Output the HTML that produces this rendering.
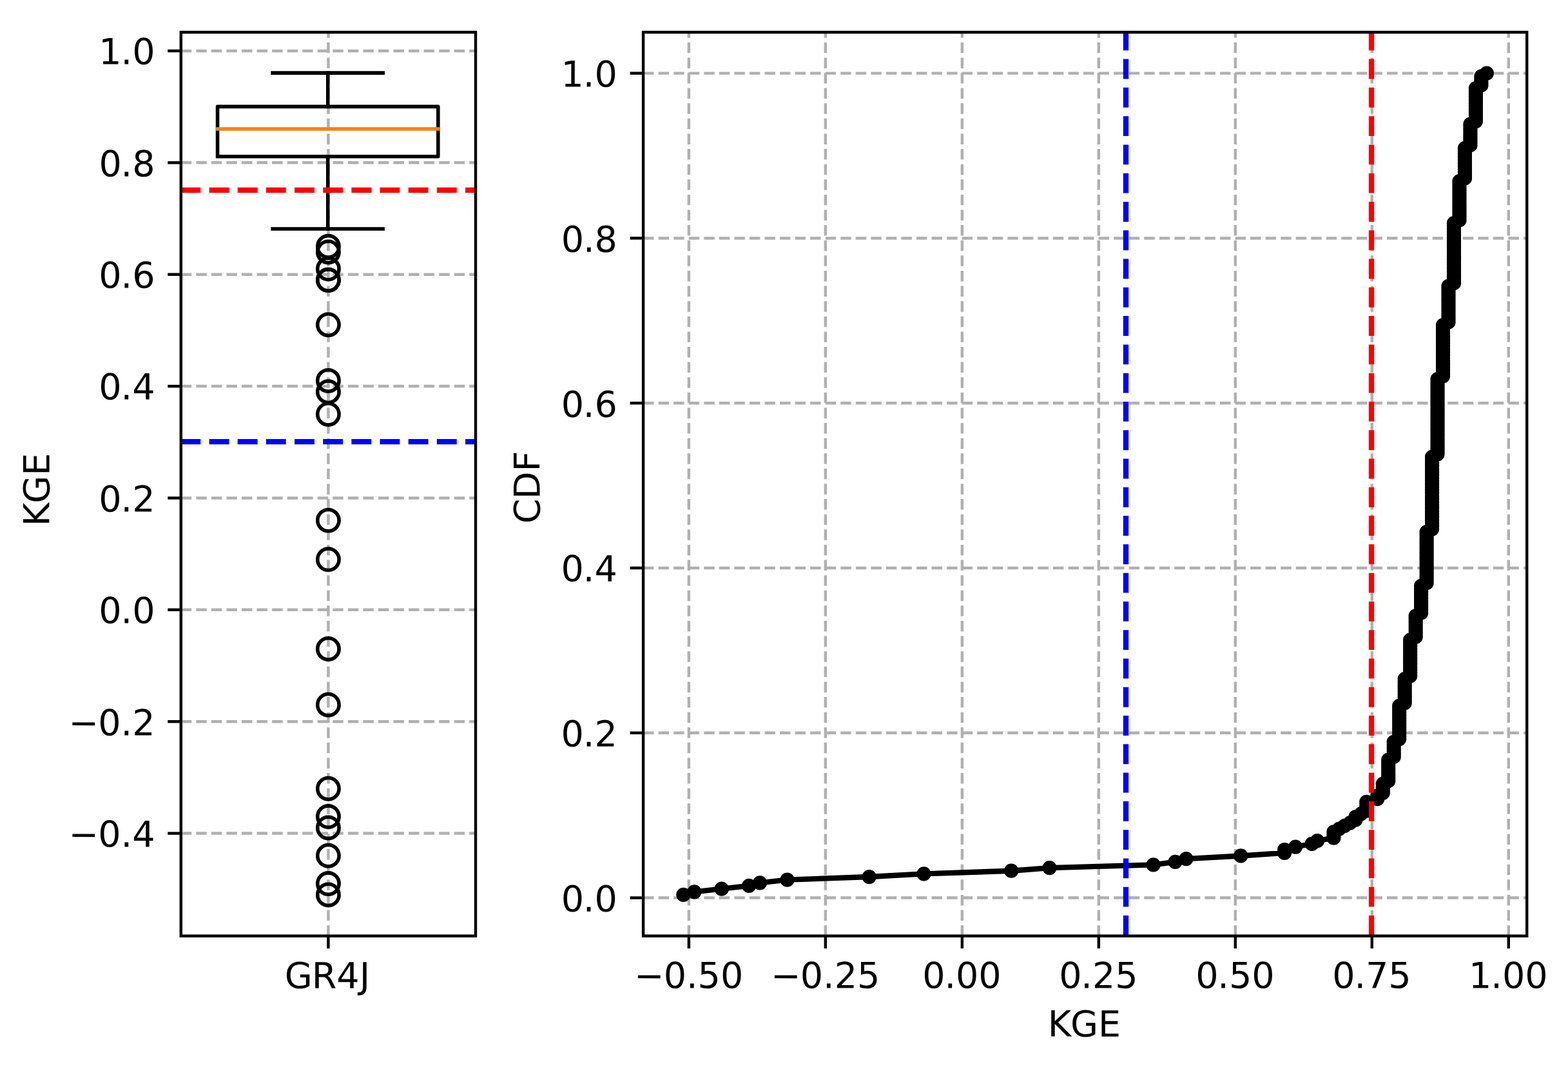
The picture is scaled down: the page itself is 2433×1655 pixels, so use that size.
<!DOCTYPE html>
<html lang="en">
<head>
<meta charset="utf-8">
<title>KGE boxplot and CDF (GR4J)</title>
<style>
html, body { margin: 0; padding: 0; background: #ffffff; }
body { width: 2433px; height: 1655px; overflow: hidden; }
svg { display: block; }
svg text { font-family: 'DejaVu Sans', 'Liberation Sans', sans-serif; white-space: pre; }
</style>
</head>
<body>
<svg width="2433" height="1655" viewBox="0 0 2433 1655">
<defs><clipPath id="clip1"><rect x="280.8" y="49.9" width="457.2" height="1401.75"/></clipPath><clipPath id="clip2"><rect x="998.1" y="49.9" width="1371.1" height="1401.75"/></clipPath></defs>
<rect x="0" y="0" width="2433" height="1655" fill="#ffffff"/>
<g id="ax1">
<g id="ax1-grid">
<line x1="509.4" y1="1451.65" x2="509.4" y2="49.9" stroke="#b0b0b0" stroke-width="4.44" stroke-linecap="butt" stroke-dasharray="16.48 7.13"/>
<line x1="280.8" y1="1292.58" x2="738" y2="1292.58" stroke="#b0b0b0" stroke-width="4.46" stroke-linecap="butt" stroke-dasharray="16.44 7.11"/>
<line x1="280.8" y1="1119.2" x2="738" y2="1119.2" stroke="#b0b0b0" stroke-width="4.46" stroke-linecap="butt" stroke-dasharray="16.44 7.11"/>
<line x1="280.8" y1="945.82" x2="738" y2="945.82" stroke="#b0b0b0" stroke-width="4.46" stroke-linecap="butt" stroke-dasharray="16.44 7.11"/>
<line x1="280.8" y1="772.45" x2="738" y2="772.45" stroke="#b0b0b0" stroke-width="4.46" stroke-linecap="butt" stroke-dasharray="16.44 7.11"/>
<line x1="280.8" y1="599.07" x2="738" y2="599.07" stroke="#b0b0b0" stroke-width="4.46" stroke-linecap="butt" stroke-dasharray="16.44 7.11"/>
<line x1="280.8" y1="425.69" x2="738" y2="425.69" stroke="#b0b0b0" stroke-width="4.46" stroke-linecap="butt" stroke-dasharray="16.44 7.11"/>
<line x1="280.8" y1="252.32" x2="738" y2="252.32" stroke="#b0b0b0" stroke-width="4.46" stroke-linecap="butt" stroke-dasharray="16.44 7.11"/>
<line x1="280.8" y1="78.94" x2="738" y2="78.94" stroke="#b0b0b0" stroke-width="4.46" stroke-linecap="butt" stroke-dasharray="16.44 7.11"/>
</g>
<g id="ax1-ticks">
<line x1="509.4" y1="1451.65" x2="509.4" y2="1471.15" stroke="#000" stroke-width="4.44" stroke-linecap="butt"/>
<line x1="260.3" y1="1292.58" x2="280.8" y2="1292.58" stroke="#000" stroke-width="4.46" stroke-linecap="butt"/>
<line x1="260.3" y1="1119.2" x2="280.8" y2="1119.2" stroke="#000" stroke-width="4.46" stroke-linecap="butt"/>
<line x1="260.3" y1="945.82" x2="280.8" y2="945.82" stroke="#000" stroke-width="4.46" stroke-linecap="butt"/>
<line x1="260.3" y1="772.45" x2="280.8" y2="772.45" stroke="#000" stroke-width="4.46" stroke-linecap="butt"/>
<line x1="260.3" y1="599.07" x2="280.8" y2="599.07" stroke="#000" stroke-width="4.46" stroke-linecap="butt"/>
<line x1="260.3" y1="425.69" x2="280.8" y2="425.69" stroke="#000" stroke-width="4.46" stroke-linecap="butt"/>
<line x1="260.3" y1="252.32" x2="280.8" y2="252.32" stroke="#000" stroke-width="4.46" stroke-linecap="butt"/>
<line x1="260.3" y1="78.94" x2="280.8" y2="78.94" stroke="#000" stroke-width="4.46" stroke-linecap="butt"/>
</g>
<g id="ax1-box" fill="none" stroke="#000" stroke-width="5.56" stroke-linecap="square" stroke-linejoin="round">
<path d="M337.55 242.8H679.8V165.4H337.55V242.8"/>
<path d="M508.7 242.8V355.05"/>
<path d="M508.7 165.4V113.1"/>
<path d="M423.1 355.05H594.2"/>
<path d="M423.1 113.1H594.2"/>
</g>
<line x1="337.55" y1="200" x2="679.8" y2="200" stroke="#ff7f0e" stroke-width="5.57" stroke-linecap="square"/>
<g id="ax1-fliers" fill="none" stroke="#000" stroke-width="5.56">
<ellipse cx="509.4" cy="1387.93" rx="16.67" ry="16.71"/>
<ellipse cx="509.4" cy="1370.6" rx="16.67" ry="16.71"/>
<ellipse cx="509.4" cy="1327.25" rx="16.67" ry="16.71"/>
<ellipse cx="509.4" cy="1283.91" rx="16.67" ry="16.71"/>
<ellipse cx="509.4" cy="1266.57" rx="16.67" ry="16.71"/>
<ellipse cx="509.4" cy="1223.23" rx="16.67" ry="16.71"/>
<ellipse cx="509.4" cy="1093.19" rx="16.67" ry="16.71"/>
<ellipse cx="509.4" cy="1006.51" rx="16.67" ry="16.71"/>
<ellipse cx="509.4" cy="867.8" rx="16.67" ry="16.71"/>
<ellipse cx="509.4" cy="807.12" rx="16.67" ry="16.71"/>
<ellipse cx="509.4" cy="642.41" rx="16.67" ry="16.71"/>
<ellipse cx="509.4" cy="607.74" rx="16.67" ry="16.71"/>
<ellipse cx="509.4" cy="590.4" rx="16.67" ry="16.71"/>
<ellipse cx="509.4" cy="503.71" rx="16.67" ry="16.71"/>
<ellipse cx="509.4" cy="434.36" rx="16.67" ry="16.71"/>
<ellipse cx="509.4" cy="434.36" rx="16.67" ry="16.71"/>
<ellipse cx="509.4" cy="417.03" rx="16.67" ry="16.71"/>
<ellipse cx="509.4" cy="391.02" rx="16.67" ry="16.71"/>
<ellipse cx="509.4" cy="382.35" rx="16.67" ry="16.71"/>
</g>
<g id="ax1-reflines" clip-path="url(#clip1)">
<line x1="280.4" y1="294.9" x2="738" y2="294.9" stroke="#ff0000" stroke-width="8.35" stroke-linecap="butt" stroke-dasharray="30.83 13.33"/>
<line x1="280.4" y1="685.1" x2="738" y2="685.1" stroke="#0000ff" stroke-width="8.35" stroke-linecap="butt" stroke-dasharray="30.83 13.33"/>
</g>
<path d="M278.58 47.67H740.22V1453.88H278.58Z M283.02 52.13V1449.42H735.78V52.13Z" fill="#000" fill-rule="nonzero"/>
<g id="ax1-labels" font-family="'DejaVu Sans', 'Liberation Sans', sans-serif" font-size="55.56px" fill="#000">
<text transform="matrix(1 0.0005 -0.0005 1.00242 106.57 1313.34)" x="0 45.66 80.89 98.63" y="0">−0.4</text>
<text transform="matrix(1 0.0005 -0.0005 1.00242 106.55 1140.36)" x="0 45.66 80.88 98.65" y="0">−0.2</text>
<text transform="matrix(1 0.0005 -0.0005 1.00242 153.33 966.54)" x="0 34.22 51.87" y="0">0.0</text>
<text transform="matrix(1 0.0005 -0.0005 1.00242 153.21 793.5)" x="0 34.22 51.99" y="0">0.2</text>
<text transform="matrix(1 0.0005 -0.0005 1.00242 153.24 619.47)" x="0 34.22 51.96" y="0">0.4</text>
<text transform="matrix(1 0.0005 -0.0005 1.00242 153.34 446.54)" x="0 34.22 51.86" y="0">0.6</text>
<text transform="matrix(1 0.0005 -0.0005 1.00242 153.39 273.48)" x="0 34.22 51.81" y="0">0.8</text>
<text transform="matrix(1 0.0005 -0.0005 1.00242 153.29 99.38)" x="0 34.25 51.91" y="0">1.0</text>
<text transform="matrix(1 0.0005 -0.0005 1.00242 441.63 1532.8)" x="0 42.04 80.73 116.19" y="0">GR4J</text>
<text transform="matrix(0 -1.00242 1 0 76.11 816.17)" x="0 35.41 78.24" y="0">KGE</text>
</g>
</g>
<g id="ax2">
<g id="ax2-grid">
<line x1="1068.9" y1="1451.65" x2="1068.9" y2="49.9" stroke="#b0b0b0" stroke-width="4.44" stroke-linecap="butt" stroke-dasharray="16.48 7.13"/>
<line x1="1280.88" y1="1451.65" x2="1280.88" y2="49.9" stroke="#b0b0b0" stroke-width="4.44" stroke-linecap="butt" stroke-dasharray="16.48 7.13"/>
<line x1="1492.87" y1="1451.65" x2="1492.87" y2="49.9" stroke="#b0b0b0" stroke-width="4.44" stroke-linecap="butt" stroke-dasharray="16.48 7.13"/>
<line x1="1704.85" y1="1451.65" x2="1704.85" y2="49.9" stroke="#b0b0b0" stroke-width="4.44" stroke-linecap="butt" stroke-dasharray="16.48 7.13"/>
<line x1="1916.83" y1="1451.65" x2="1916.83" y2="49.9" stroke="#b0b0b0" stroke-width="4.44" stroke-linecap="butt" stroke-dasharray="16.48 7.13"/>
<line x1="2128.81" y1="1451.65" x2="2128.81" y2="49.9" stroke="#b0b0b0" stroke-width="4.44" stroke-linecap="butt" stroke-dasharray="16.48 7.13"/>
<line x1="2340.79" y1="1451.65" x2="2340.79" y2="49.9" stroke="#b0b0b0" stroke-width="4.44" stroke-linecap="butt" stroke-dasharray="16.48 7.13"/>
<line x1="998.1" y1="1392.58" x2="2369.2" y2="1392.58" stroke="#b0b0b0" stroke-width="4.46" stroke-linecap="butt" stroke-dasharray="16.44 7.11"/>
<line x1="998.1" y1="1136.79" x2="2369.2" y2="1136.79" stroke="#b0b0b0" stroke-width="4.46" stroke-linecap="butt" stroke-dasharray="16.44 7.11"/>
<line x1="998.1" y1="881" x2="2369.2" y2="881" stroke="#b0b0b0" stroke-width="4.46" stroke-linecap="butt" stroke-dasharray="16.44 7.11"/>
<line x1="998.1" y1="625.2" x2="2369.2" y2="625.2" stroke="#b0b0b0" stroke-width="4.46" stroke-linecap="butt" stroke-dasharray="16.44 7.11"/>
<line x1="998.1" y1="369.41" x2="2369.2" y2="369.41" stroke="#b0b0b0" stroke-width="4.46" stroke-linecap="butt" stroke-dasharray="16.44 7.11"/>
<line x1="998.1" y1="113.62" x2="2369.2" y2="113.62" stroke="#b0b0b0" stroke-width="4.46" stroke-linecap="butt" stroke-dasharray="16.44 7.11"/>
</g>
<g id="ax2-ticks">
<line x1="1068.9" y1="1451.65" x2="1068.9" y2="1471.15" stroke="#000" stroke-width="4.44" stroke-linecap="butt"/>
<line x1="1280.88" y1="1451.65" x2="1280.88" y2="1471.15" stroke="#000" stroke-width="4.44" stroke-linecap="butt"/>
<line x1="1492.87" y1="1451.65" x2="1492.87" y2="1471.15" stroke="#000" stroke-width="4.44" stroke-linecap="butt"/>
<line x1="1704.85" y1="1451.65" x2="1704.85" y2="1471.15" stroke="#000" stroke-width="4.44" stroke-linecap="butt"/>
<line x1="1916.83" y1="1451.65" x2="1916.83" y2="1471.15" stroke="#000" stroke-width="4.44" stroke-linecap="butt"/>
<line x1="2128.81" y1="1451.65" x2="2128.81" y2="1471.15" stroke="#000" stroke-width="4.44" stroke-linecap="butt"/>
<line x1="2340.79" y1="1451.65" x2="2340.79" y2="1471.15" stroke="#000" stroke-width="4.44" stroke-linecap="butt"/>
<line x1="977.6" y1="1392.58" x2="998.1" y2="1392.58" stroke="#000" stroke-width="4.46" stroke-linecap="butt"/>
<line x1="977.6" y1="1136.79" x2="998.1" y2="1136.79" stroke="#000" stroke-width="4.46" stroke-linecap="butt"/>
<line x1="977.6" y1="881" x2="998.1" y2="881" stroke="#000" stroke-width="4.46" stroke-linecap="butt"/>
<line x1="977.6" y1="625.2" x2="998.1" y2="625.2" stroke="#000" stroke-width="4.46" stroke-linecap="butt"/>
<line x1="977.6" y1="369.41" x2="998.1" y2="369.41" stroke="#000" stroke-width="4.46" stroke-linecap="butt"/>
<line x1="977.6" y1="113.62" x2="998.1" y2="113.62" stroke="#000" stroke-width="4.46" stroke-linecap="butt"/>
</g>
<polyline id="cdf-line" fill="none" stroke="#000" stroke-width="8.33" stroke-linejoin="round" stroke-linecap="square" points="1060.42,1387.93 1077.38,1383.28 1119.78,1378.63 1162.17,1373.98 1179.13,1369.33 1221.53,1364.68 1348.72,1360.03 1433.51,1355.38 1569.18,1350.73 1628.53,1346.08 1789.64,1341.43 1823.56,1336.78 1840.52,1332.12 1925.31,1327.47 1993.14,1322.82 1993.14,1318.17 2010.1,1313.52 2035.54,1308.87 2044.02,1304.22 2069.46,1299.57 2069.46,1294.92 2069.46,1290.27 2077.94,1285.62 2086.42,1280.97 2094.9,1276.31 2103.37,1271.66 2103.37,1267.01 2111.85,1262.36 2120.33,1257.71 2120.33,1253.06 2120.33,1248.41 2120.33,1243.76 2137.29,1239.11 2137.29,1234.46 2145.77,1229.81 2145.77,1225.16 2145.77,1220.51 2145.77,1215.85 2154.25,1211.2 2154.25,1206.55 2154.25,1201.9 2154.25,1197.25 2154.25,1192.6 2154.25,1187.95 2154.25,1183.3 2154.25,1178.65 2162.73,1174 2162.73,1169.35 2162.73,1164.7 2162.73,1160.05 2162.73,1155.39 2162.73,1150.74 2171.21,1146.09 2171.21,1141.44 2171.21,1136.79 2171.21,1132.14 2171.21,1127.49 2171.21,1122.84 2171.21,1118.19 2171.21,1113.54 2171.21,1108.89 2171.21,1104.24 2171.21,1099.58 2171.21,1094.93 2179.69,1090.28 2179.69,1085.63 2179.69,1080.98 2179.69,1076.33 2179.69,1071.68 2179.69,1067.03 2179.69,1062.38 2179.69,1057.73 2179.69,1053.08 2188.17,1048.43 2188.17,1043.78 2188.17,1039.12 2188.17,1034.47 2188.17,1029.82 2188.17,1025.17 2188.17,1020.52 2188.17,1015.87 2188.17,1011.22 2188.17,1006.57 2188.17,1001.92 2188.17,997.27 2188.17,992.62 2196.65,987.97 2196.65,983.31 2196.65,978.66 2196.65,974.01 2196.65,969.36 2196.65,964.71 2196.65,960.06 2196.65,955.41 2205.13,950.76 2205.13,946.11 2205.13,941.46 2205.13,936.81 2205.13,932.16 2205.13,927.51 2205.13,922.85 2205.13,918.2 2205.13,913.55 2205.13,908.9 2213.61,904.25 2213.61,899.6 2213.61,894.95 2213.61,890.3 2213.61,885.65 2213.61,881 2213.61,876.35 2213.61,871.7 2213.61,867.04 2213.61,862.39 2213.61,857.74 2213.61,853.09 2213.61,848.44 2213.61,843.79 2213.61,839.14 2213.61,834.49 2213.61,829.84 2213.61,825.19 2222.08,820.54 2222.08,815.89 2222.08,811.24 2222.08,806.58 2222.08,801.93 2222.08,797.28 2222.08,792.63 2222.08,787.98 2222.08,783.33 2222.08,778.68 2222.08,774.03 2222.08,769.38 2222.08,764.73 2222.08,760.08 2222.08,755.43 2222.08,750.78 2222.08,746.12 2222.08,741.47 2222.08,736.82 2222.08,732.17 2222.08,727.52 2222.08,722.87 2222.08,718.22 2222.08,713.57 2222.08,708.92 2230.56,704.27 2230.56,699.62 2230.56,694.97 2230.56,690.31 2230.56,685.66 2230.56,681.01 2230.56,676.36 2230.56,671.71 2230.56,667.06 2230.56,662.41 2230.56,657.76 2230.56,653.11 2230.56,648.46 2230.56,643.81 2230.56,639.16 2230.56,634.51 2230.56,629.85 2230.56,625.2 2230.56,620.55 2230.56,615.9 2230.56,611.25 2230.56,606.6 2230.56,601.95 2230.56,597.3 2230.56,592.65 2230.56,588 2239.04,583.35 2239.04,578.7 2239.04,574.04 2239.04,569.39 2239.04,564.74 2239.04,560.09 2239.04,555.44 2239.04,550.79 2239.04,546.14 2239.04,541.49 2239.04,536.84 2239.04,532.19 2239.04,527.54 2239.04,522.89 2239.04,518.24 2239.04,513.58 2239.04,508.93 2239.04,504.28 2247.52,499.63 2247.52,494.98 2247.52,490.33 2247.52,485.68 2247.52,481.03 2247.52,476.38 2247.52,471.73 2247.52,467.08 2247.52,462.43 2247.52,457.77 2247.52,453.12 2247.52,448.47 2247.52,443.82 2256,439.17 2256,434.52 2256,429.87 2256,425.22 2256,420.57 2256,415.92 2256,411.27 2256,406.62 2256,401.97 2256,397.31 2256,392.66 2256,388.01 2256,383.36 2256,378.71 2256,374.06 2256,369.41 2256,364.76 2256,360.11 2256,355.46 2256,350.81 2256,346.16 2264.48,341.5 2264.48,336.85 2264.48,332.2 2264.48,327.55 2264.48,322.9 2264.48,318.25 2264.48,313.6 2264.48,308.95 2264.48,304.3 2264.48,299.65 2264.48,295 2264.48,290.35 2264.48,285.7 2264.48,281.04 2272.96,276.39 2272.96,271.74 2272.96,267.09 2272.96,262.44 2272.96,257.79 2272.96,253.14 2272.96,248.49 2272.96,243.84 2272.96,239.19 2272.96,234.54 2272.96,229.89 2281.44,225.24 2281.44,220.58 2281.44,215.93 2281.44,211.28 2281.44,206.63 2281.44,201.98 2281.44,197.33 2281.44,192.68 2289.92,188.03 2289.92,183.38 2289.92,178.73 2289.92,174.08 2289.92,169.43 2289.92,164.77 2289.92,160.12 2289.92,155.47 2289.92,150.82 2289.92,146.17 2289.92,141.52 2289.92,136.87 2298.4,132.22 2298.4,127.57 2298.4,122.92 2298.4,118.27 2306.88,113.62"/>
<g id="cdf-markers" fill="#000" stroke="#000" stroke-width="5.56">
<circle cx="1060.42" cy="1387.93" r="8.33"/>
<circle cx="1077.38" cy="1383.28" r="8.33"/>
<circle cx="1119.78" cy="1378.63" r="8.33"/>
<circle cx="1162.17" cy="1373.98" r="8.33"/>
<circle cx="1179.13" cy="1369.33" r="8.33"/>
<circle cx="1221.53" cy="1364.68" r="8.33"/>
<circle cx="1348.72" cy="1360.03" r="8.33"/>
<circle cx="1433.51" cy="1355.38" r="8.33"/>
<circle cx="1569.18" cy="1350.73" r="8.33"/>
<circle cx="1628.53" cy="1346.08" r="8.33"/>
<circle cx="1789.64" cy="1341.43" r="8.33"/>
<circle cx="1823.56" cy="1336.78" r="8.33"/>
<circle cx="1840.52" cy="1332.12" r="8.33"/>
<circle cx="1925.31" cy="1327.47" r="8.33"/>
<circle cx="1993.14" cy="1322.82" r="8.33"/>
<circle cx="1993.14" cy="1318.17" r="8.33"/>
<circle cx="2010.1" cy="1313.52" r="8.33"/>
<circle cx="2035.54" cy="1308.87" r="8.33"/>
<circle cx="2044.02" cy="1304.22" r="8.33"/>
<circle cx="2069.46" cy="1299.57" r="8.33"/>
<circle cx="2069.46" cy="1294.92" r="8.33"/>
<circle cx="2069.46" cy="1290.27" r="8.33"/>
<circle cx="2077.94" cy="1285.62" r="8.33"/>
<circle cx="2086.42" cy="1280.97" r="8.33"/>
<circle cx="2094.9" cy="1276.31" r="8.33"/>
<circle cx="2103.37" cy="1271.66" r="8.33"/>
<circle cx="2103.37" cy="1267.01" r="8.33"/>
<circle cx="2111.85" cy="1262.36" r="8.33"/>
<circle cx="2120.33" cy="1257.71" r="8.33"/>
<circle cx="2120.33" cy="1253.06" r="8.33"/>
<circle cx="2120.33" cy="1248.41" r="8.33"/>
<circle cx="2120.33" cy="1243.76" r="8.33"/>
<circle cx="2137.29" cy="1239.11" r="8.33"/>
<circle cx="2137.29" cy="1234.46" r="8.33"/>
<circle cx="2145.77" cy="1229.81" r="8.33"/>
<circle cx="2145.77" cy="1225.16" r="8.33"/>
<circle cx="2145.77" cy="1220.51" r="8.33"/>
<circle cx="2145.77" cy="1215.85" r="8.33"/>
<circle cx="2154.25" cy="1211.2" r="8.33"/>
<circle cx="2154.25" cy="1206.55" r="8.33"/>
<circle cx="2154.25" cy="1201.9" r="8.33"/>
<circle cx="2154.25" cy="1197.25" r="8.33"/>
<circle cx="2154.25" cy="1192.6" r="8.33"/>
<circle cx="2154.25" cy="1187.95" r="8.33"/>
<circle cx="2154.25" cy="1183.3" r="8.33"/>
<circle cx="2154.25" cy="1178.65" r="8.33"/>
<circle cx="2162.73" cy="1174" r="8.33"/>
<circle cx="2162.73" cy="1169.35" r="8.33"/>
<circle cx="2162.73" cy="1164.7" r="8.33"/>
<circle cx="2162.73" cy="1160.05" r="8.33"/>
<circle cx="2162.73" cy="1155.39" r="8.33"/>
<circle cx="2162.73" cy="1150.74" r="8.33"/>
<circle cx="2171.21" cy="1146.09" r="8.33"/>
<circle cx="2171.21" cy="1141.44" r="8.33"/>
<circle cx="2171.21" cy="1136.79" r="8.33"/>
<circle cx="2171.21" cy="1132.14" r="8.33"/>
<circle cx="2171.21" cy="1127.49" r="8.33"/>
<circle cx="2171.21" cy="1122.84" r="8.33"/>
<circle cx="2171.21" cy="1118.19" r="8.33"/>
<circle cx="2171.21" cy="1113.54" r="8.33"/>
<circle cx="2171.21" cy="1108.89" r="8.33"/>
<circle cx="2171.21" cy="1104.24" r="8.33"/>
<circle cx="2171.21" cy="1099.58" r="8.33"/>
<circle cx="2171.21" cy="1094.93" r="8.33"/>
<circle cx="2179.69" cy="1090.28" r="8.33"/>
<circle cx="2179.69" cy="1085.63" r="8.33"/>
<circle cx="2179.69" cy="1080.98" r="8.33"/>
<circle cx="2179.69" cy="1076.33" r="8.33"/>
<circle cx="2179.69" cy="1071.68" r="8.33"/>
<circle cx="2179.69" cy="1067.03" r="8.33"/>
<circle cx="2179.69" cy="1062.38" r="8.33"/>
<circle cx="2179.69" cy="1057.73" r="8.33"/>
<circle cx="2179.69" cy="1053.08" r="8.33"/>
<circle cx="2188.17" cy="1048.43" r="8.33"/>
<circle cx="2188.17" cy="1043.78" r="8.33"/>
<circle cx="2188.17" cy="1039.12" r="8.33"/>
<circle cx="2188.17" cy="1034.47" r="8.33"/>
<circle cx="2188.17" cy="1029.82" r="8.33"/>
<circle cx="2188.17" cy="1025.17" r="8.33"/>
<circle cx="2188.17" cy="1020.52" r="8.33"/>
<circle cx="2188.17" cy="1015.87" r="8.33"/>
<circle cx="2188.17" cy="1011.22" r="8.33"/>
<circle cx="2188.17" cy="1006.57" r="8.33"/>
<circle cx="2188.17" cy="1001.92" r="8.33"/>
<circle cx="2188.17" cy="997.27" r="8.33"/>
<circle cx="2188.17" cy="992.62" r="8.33"/>
<circle cx="2196.65" cy="987.97" r="8.33"/>
<circle cx="2196.65" cy="983.31" r="8.33"/>
<circle cx="2196.65" cy="978.66" r="8.33"/>
<circle cx="2196.65" cy="974.01" r="8.33"/>
<circle cx="2196.65" cy="969.36" r="8.33"/>
<circle cx="2196.65" cy="964.71" r="8.33"/>
<circle cx="2196.65" cy="960.06" r="8.33"/>
<circle cx="2196.65" cy="955.41" r="8.33"/>
<circle cx="2205.13" cy="950.76" r="8.33"/>
<circle cx="2205.13" cy="946.11" r="8.33"/>
<circle cx="2205.13" cy="941.46" r="8.33"/>
<circle cx="2205.13" cy="936.81" r="8.33"/>
<circle cx="2205.13" cy="932.16" r="8.33"/>
<circle cx="2205.13" cy="927.51" r="8.33"/>
<circle cx="2205.13" cy="922.85" r="8.33"/>
<circle cx="2205.13" cy="918.2" r="8.33"/>
<circle cx="2205.13" cy="913.55" r="8.33"/>
<circle cx="2205.13" cy="908.9" r="8.33"/>
<circle cx="2213.61" cy="904.25" r="8.33"/>
<circle cx="2213.61" cy="899.6" r="8.33"/>
<circle cx="2213.61" cy="894.95" r="8.33"/>
<circle cx="2213.61" cy="890.3" r="8.33"/>
<circle cx="2213.61" cy="885.65" r="8.33"/>
<circle cx="2213.61" cy="881" r="8.33"/>
<circle cx="2213.61" cy="876.35" r="8.33"/>
<circle cx="2213.61" cy="871.7" r="8.33"/>
<circle cx="2213.61" cy="867.04" r="8.33"/>
<circle cx="2213.61" cy="862.39" r="8.33"/>
<circle cx="2213.61" cy="857.74" r="8.33"/>
<circle cx="2213.61" cy="853.09" r="8.33"/>
<circle cx="2213.61" cy="848.44" r="8.33"/>
<circle cx="2213.61" cy="843.79" r="8.33"/>
<circle cx="2213.61" cy="839.14" r="8.33"/>
<circle cx="2213.61" cy="834.49" r="8.33"/>
<circle cx="2213.61" cy="829.84" r="8.33"/>
<circle cx="2213.61" cy="825.19" r="8.33"/>
<circle cx="2222.08" cy="820.54" r="8.33"/>
<circle cx="2222.08" cy="815.89" r="8.33"/>
<circle cx="2222.08" cy="811.24" r="8.33"/>
<circle cx="2222.08" cy="806.58" r="8.33"/>
<circle cx="2222.08" cy="801.93" r="8.33"/>
<circle cx="2222.08" cy="797.28" r="8.33"/>
<circle cx="2222.08" cy="792.63" r="8.33"/>
<circle cx="2222.08" cy="787.98" r="8.33"/>
<circle cx="2222.08" cy="783.33" r="8.33"/>
<circle cx="2222.08" cy="778.68" r="8.33"/>
<circle cx="2222.08" cy="774.03" r="8.33"/>
<circle cx="2222.08" cy="769.38" r="8.33"/>
<circle cx="2222.08" cy="764.73" r="8.33"/>
<circle cx="2222.08" cy="760.08" r="8.33"/>
<circle cx="2222.08" cy="755.43" r="8.33"/>
<circle cx="2222.08" cy="750.78" r="8.33"/>
<circle cx="2222.08" cy="746.12" r="8.33"/>
<circle cx="2222.08" cy="741.47" r="8.33"/>
<circle cx="2222.08" cy="736.82" r="8.33"/>
<circle cx="2222.08" cy="732.17" r="8.33"/>
<circle cx="2222.08" cy="727.52" r="8.33"/>
<circle cx="2222.08" cy="722.87" r="8.33"/>
<circle cx="2222.08" cy="718.22" r="8.33"/>
<circle cx="2222.08" cy="713.57" r="8.33"/>
<circle cx="2222.08" cy="708.92" r="8.33"/>
<circle cx="2230.56" cy="704.27" r="8.33"/>
<circle cx="2230.56" cy="699.62" r="8.33"/>
<circle cx="2230.56" cy="694.97" r="8.33"/>
<circle cx="2230.56" cy="690.31" r="8.33"/>
<circle cx="2230.56" cy="685.66" r="8.33"/>
<circle cx="2230.56" cy="681.01" r="8.33"/>
<circle cx="2230.56" cy="676.36" r="8.33"/>
<circle cx="2230.56" cy="671.71" r="8.33"/>
<circle cx="2230.56" cy="667.06" r="8.33"/>
<circle cx="2230.56" cy="662.41" r="8.33"/>
<circle cx="2230.56" cy="657.76" r="8.33"/>
<circle cx="2230.56" cy="653.11" r="8.33"/>
<circle cx="2230.56" cy="648.46" r="8.33"/>
<circle cx="2230.56" cy="643.81" r="8.33"/>
<circle cx="2230.56" cy="639.16" r="8.33"/>
<circle cx="2230.56" cy="634.51" r="8.33"/>
<circle cx="2230.56" cy="629.85" r="8.33"/>
<circle cx="2230.56" cy="625.2" r="8.33"/>
<circle cx="2230.56" cy="620.55" r="8.33"/>
<circle cx="2230.56" cy="615.9" r="8.33"/>
<circle cx="2230.56" cy="611.25" r="8.33"/>
<circle cx="2230.56" cy="606.6" r="8.33"/>
<circle cx="2230.56" cy="601.95" r="8.33"/>
<circle cx="2230.56" cy="597.3" r="8.33"/>
<circle cx="2230.56" cy="592.65" r="8.33"/>
<circle cx="2230.56" cy="588" r="8.33"/>
<circle cx="2239.04" cy="583.35" r="8.33"/>
<circle cx="2239.04" cy="578.7" r="8.33"/>
<circle cx="2239.04" cy="574.04" r="8.33"/>
<circle cx="2239.04" cy="569.39" r="8.33"/>
<circle cx="2239.04" cy="564.74" r="8.33"/>
<circle cx="2239.04" cy="560.09" r="8.33"/>
<circle cx="2239.04" cy="555.44" r="8.33"/>
<circle cx="2239.04" cy="550.79" r="8.33"/>
<circle cx="2239.04" cy="546.14" r="8.33"/>
<circle cx="2239.04" cy="541.49" r="8.33"/>
<circle cx="2239.04" cy="536.84" r="8.33"/>
<circle cx="2239.04" cy="532.19" r="8.33"/>
<circle cx="2239.04" cy="527.54" r="8.33"/>
<circle cx="2239.04" cy="522.89" r="8.33"/>
<circle cx="2239.04" cy="518.24" r="8.33"/>
<circle cx="2239.04" cy="513.58" r="8.33"/>
<circle cx="2239.04" cy="508.93" r="8.33"/>
<circle cx="2239.04" cy="504.28" r="8.33"/>
<circle cx="2247.52" cy="499.63" r="8.33"/>
<circle cx="2247.52" cy="494.98" r="8.33"/>
<circle cx="2247.52" cy="490.33" r="8.33"/>
<circle cx="2247.52" cy="485.68" r="8.33"/>
<circle cx="2247.52" cy="481.03" r="8.33"/>
<circle cx="2247.52" cy="476.38" r="8.33"/>
<circle cx="2247.52" cy="471.73" r="8.33"/>
<circle cx="2247.52" cy="467.08" r="8.33"/>
<circle cx="2247.52" cy="462.43" r="8.33"/>
<circle cx="2247.52" cy="457.77" r="8.33"/>
<circle cx="2247.52" cy="453.12" r="8.33"/>
<circle cx="2247.52" cy="448.47" r="8.33"/>
<circle cx="2247.52" cy="443.82" r="8.33"/>
<circle cx="2256" cy="439.17" r="8.33"/>
<circle cx="2256" cy="434.52" r="8.33"/>
<circle cx="2256" cy="429.87" r="8.33"/>
<circle cx="2256" cy="425.22" r="8.33"/>
<circle cx="2256" cy="420.57" r="8.33"/>
<circle cx="2256" cy="415.92" r="8.33"/>
<circle cx="2256" cy="411.27" r="8.33"/>
<circle cx="2256" cy="406.62" r="8.33"/>
<circle cx="2256" cy="401.97" r="8.33"/>
<circle cx="2256" cy="397.31" r="8.33"/>
<circle cx="2256" cy="392.66" r="8.33"/>
<circle cx="2256" cy="388.01" r="8.33"/>
<circle cx="2256" cy="383.36" r="8.33"/>
<circle cx="2256" cy="378.71" r="8.33"/>
<circle cx="2256" cy="374.06" r="8.33"/>
<circle cx="2256" cy="369.41" r="8.33"/>
<circle cx="2256" cy="364.76" r="8.33"/>
<circle cx="2256" cy="360.11" r="8.33"/>
<circle cx="2256" cy="355.46" r="8.33"/>
<circle cx="2256" cy="350.81" r="8.33"/>
<circle cx="2256" cy="346.16" r="8.33"/>
<circle cx="2264.48" cy="341.5" r="8.33"/>
<circle cx="2264.48" cy="336.85" r="8.33"/>
<circle cx="2264.48" cy="332.2" r="8.33"/>
<circle cx="2264.48" cy="327.55" r="8.33"/>
<circle cx="2264.48" cy="322.9" r="8.33"/>
<circle cx="2264.48" cy="318.25" r="8.33"/>
<circle cx="2264.48" cy="313.6" r="8.33"/>
<circle cx="2264.48" cy="308.95" r="8.33"/>
<circle cx="2264.48" cy="304.3" r="8.33"/>
<circle cx="2264.48" cy="299.65" r="8.33"/>
<circle cx="2264.48" cy="295" r="8.33"/>
<circle cx="2264.48" cy="290.35" r="8.33"/>
<circle cx="2264.48" cy="285.7" r="8.33"/>
<circle cx="2264.48" cy="281.04" r="8.33"/>
<circle cx="2272.96" cy="276.39" r="8.33"/>
<circle cx="2272.96" cy="271.74" r="8.33"/>
<circle cx="2272.96" cy="267.09" r="8.33"/>
<circle cx="2272.96" cy="262.44" r="8.33"/>
<circle cx="2272.96" cy="257.79" r="8.33"/>
<circle cx="2272.96" cy="253.14" r="8.33"/>
<circle cx="2272.96" cy="248.49" r="8.33"/>
<circle cx="2272.96" cy="243.84" r="8.33"/>
<circle cx="2272.96" cy="239.19" r="8.33"/>
<circle cx="2272.96" cy="234.54" r="8.33"/>
<circle cx="2272.96" cy="229.89" r="8.33"/>
<circle cx="2281.44" cy="225.24" r="8.33"/>
<circle cx="2281.44" cy="220.58" r="8.33"/>
<circle cx="2281.44" cy="215.93" r="8.33"/>
<circle cx="2281.44" cy="211.28" r="8.33"/>
<circle cx="2281.44" cy="206.63" r="8.33"/>
<circle cx="2281.44" cy="201.98" r="8.33"/>
<circle cx="2281.44" cy="197.33" r="8.33"/>
<circle cx="2281.44" cy="192.68" r="8.33"/>
<circle cx="2289.92" cy="188.03" r="8.33"/>
<circle cx="2289.92" cy="183.38" r="8.33"/>
<circle cx="2289.92" cy="178.73" r="8.33"/>
<circle cx="2289.92" cy="174.08" r="8.33"/>
<circle cx="2289.92" cy="169.43" r="8.33"/>
<circle cx="2289.92" cy="164.77" r="8.33"/>
<circle cx="2289.92" cy="160.12" r="8.33"/>
<circle cx="2289.92" cy="155.47" r="8.33"/>
<circle cx="2289.92" cy="150.82" r="8.33"/>
<circle cx="2289.92" cy="146.17" r="8.33"/>
<circle cx="2289.92" cy="141.52" r="8.33"/>
<circle cx="2289.92" cy="136.87" r="8.33"/>
<circle cx="2298.4" cy="132.22" r="8.33"/>
<circle cx="2298.4" cy="127.57" r="8.33"/>
<circle cx="2298.4" cy="122.92" r="8.33"/>
<circle cx="2298.4" cy="118.27" r="8.33"/>
<circle cx="2306.88" cy="113.62" r="8.33"/>
</g>
<g id="ax2-reflines" clip-path="url(#clip2)">
<line x1="2128" y1="1450.9" x2="2128" y2="49.9" stroke="#ff0000" stroke-width="8.33" stroke-linecap="butt" stroke-dasharray="30.91 13.37"/>
<line x1="1747" y1="1450.9" x2="1747" y2="49.9" stroke="#0000ff" stroke-width="8.33" stroke-linecap="butt" stroke-dasharray="30.91 13.37"/>
</g>
<path d="M995.88 47.67H2371.42V1453.88H995.88Z M1000.32 52.13V1449.42H2366.98V52.13Z" fill="#000" fill-rule="nonzero"/>
<g id="ax2-labels" font-family="'DejaVu Sans', 'Liberation Sans', sans-serif" font-size="55.56px" fill="#000">
<text transform="matrix(1 0.0005 -0.0005 1.00242 870.63 1413.69)" x="0 34.22 51.87" y="0">0.0</text>
<text transform="matrix(1 0.0005 -0.0005 1.00242 870.51 1157.65)" x="0 34.22 51.99" y="0">0.2</text>
<text transform="matrix(1 0.0005 -0.0005 1.00242 870.53 901.62)" x="0 34.22 51.97" y="0">0.4</text>
<text transform="matrix(1 0.0005 -0.0005 1.00242 870.64 646.69)" x="0 34.22 51.86" y="0">0.6</text>
<text transform="matrix(1 0.0005 -0.0005 1.00242 870.69 390.63)" x="0 34.22 51.81" y="0">0.8</text>
<text transform="matrix(1 0.0005 -0.0005 1.00242 870.59 134.53)" x="0 34.26 51.91" y="0">1.0</text>
<text transform="matrix(1 0.0005 -0.0005 1.00242 984.09 1532.49)" x="0 45.66 80.88 98.5 133.91" y="0">−0.50</text>
<text transform="matrix(1 0.0005 -0.0005 1.00242 1196.09 1532.49)" x="0 45.66 80.88 98.65 133.88" y="0">−0.25</text>
<text transform="matrix(1 0.0005 -0.0005 1.00242 1431.2 1532.49)" x="0 34.22 51.87 87.12" y="0">0.00</text>
<text transform="matrix(1 0.0005 -0.0005 1.00242 1643.13 1532.49)" x="0 34.22 51.99 87.21" y="0">0.25</text>
<text transform="matrix(1 0.0005 -0.0005 1.00242 1855.13 1532.49)" x="0 34.22 51.84 87.25" y="0">0.50</text>
<text transform="matrix(1 0.0005 -0.0005 1.00242 2067.19 1532.49)" x="0 34.22 51.88 87.09" y="0">0.75</text>
<text transform="matrix(1 0.0005 -0.0005 1.00242 2279.1 1532.49)" x="0 34.26 51.91 87.16" y="0">1.00</text>
<text transform="matrix(1 0.0005 -0.0005 1.00242 1625.72 1607.61)" x="0 35.4 78.26" y="0">KGE</text>
<text transform="matrix(0 -1.00242 1 0 837.49 812.15)" x="0 37.85 80.38" y="0">CDF</text>
</g>
</g>
</svg>
</body>
</html>
